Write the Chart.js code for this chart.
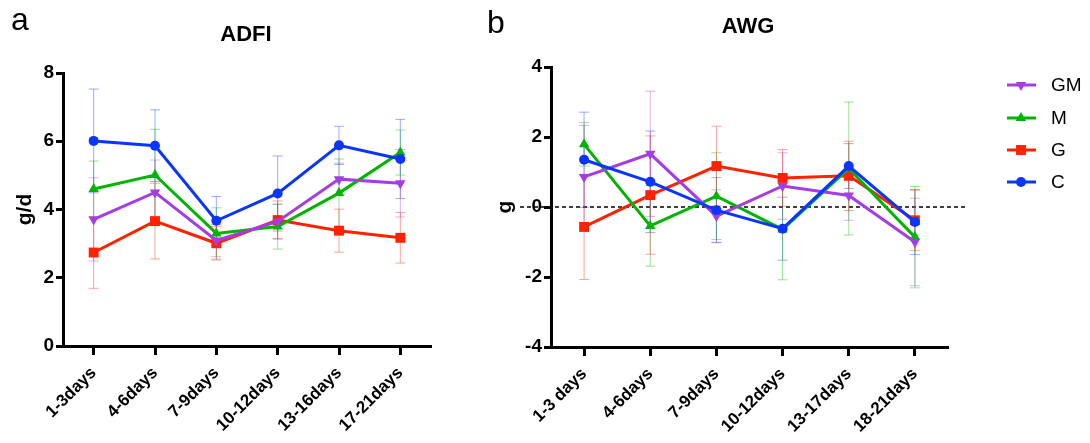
<!DOCTYPE html>
<html lang="en">
<head>
<meta charset="UTF-8">
<title>ADFI and AWG</title>
<script src="https://cdn.jsdelivr.net/npm/chart.js"></script>
<style>
  body { margin: 0; background: #fff; }
  #wrap { position: relative; width: 1090px; height: 443px; }
  canvas { position: absolute; top: 0; }
</style>
</head>
<body>
<div id="wrap">
  <canvas id="adfiChart" width="480" height="443" style="left:0"></canvas>
  <canvas id="awgChart" width="610" height="443" style="left:480px"></canvas>
</div>
<script>
// ---- data ----
const adfiLabels = ['1-3days', '4-6days', '7-9days', '10-12days', '13-16days', '17-21days'];
const awgLabels = ['1-3 days', '4-6days', '7-9days', '10-12days', '13-17days', '18-21days'];
const groupNames = ['GM', 'M', 'G', 'C'];

// ADFI (g/d), mean and SD
const adfiGM = [3.71, 4.50, 3.09, 3.65, 4.89, 4.77];
const adfiGMsd = [1.22, 0.95, 0.47, 0.50, 0.47, 0.99];
const adfiM = [4.60, 5.01, 3.30, 3.50, 4.48, 5.67];
const adfiMsd = [0.82, 1.34, 0.75, 0.66, 1.00, 0.66];
const adfiG = [2.74, 3.66, 3.01, 3.69, 3.38, 3.17];
const adfiGsd = [1.05, 1.11, 0.49, 0.56, 0.63, 0.74];
const adfiC = [6.01, 5.87, 3.67, 4.47, 5.88, 5.48];
const adfiCsd = [1.52, 1.05, 0.71, 1.10, 0.56, 1.16];

// AWG (g), mean and SD
const awgGM = [0.86, 1.52, -0.26, 0.60, 0.33, -1.00];
const awgGMsd = [1.47, 1.79, 0.75, 0.95, 0.71, 1.25];
const awgM = [1.79, -0.54, 0.31, -0.64, 1.10, -0.86];
const awgMsd = [0.62, 1.15, 1.24, 1.44, 1.90, 1.45];
const awgG = [-0.57, 0.34, 1.17, 0.83, 0.89, -0.38];
const awgGsd = [1.50, 1.69, 1.14, 0.81, 0.99, 0.86];
const awgC = [1.35, 0.72, -0.09, -0.62, 1.17, -0.43];
const awgCsd = [1.36, 1.45, 0.93, 0.90, 0.64, 0.93];

const yTicksAdfi = [0, 2, 4, 6, 8];
const yTicksAwg = [-4, -2, 0, 2, 4];

// ---- styles ----
const FONT = "'Liberation Sans', Arial, Helvetica, sans-serif";
const styles = {
  GM: { color: '#a43de3', err: 'rgba(164,61,227,0.4)', pointStyle: 'triangle', rotation: 180, radius: 6 },
  M:  { color: '#00b400', err: 'rgba(0,180,0,0.4)',    pointStyle: 'triangle', rotation: 0,   radius: 6 },
  G:  { color: '#ff2200', err: 'rgba(255,34,0,0.4)',   pointStyle: 'rect',     rotation: 0,   radius: 7 },
  C:  { color: '#0a35ff', err: 'rgba(10,53,255,0.4)',  pointStyle: 'circle',   rotation: 0,   radius: 5 }
};

function makeDataset(name, values, sd) {
  const s = styles[name];
  return {
    label: name,
    data: values,
    sd: sd,
    errColor: s.err,
    borderColor: s.color,
    backgroundColor: s.color,
    borderWidth: 3,
    pointStyle: s.pointStyle,
    pointRotation: s.rotation,
    pointRadius: s.radius,
    pointBorderWidth: 0,
    tension: 0
  };
}

// error bars drawn under the lines
const errorBars = {
  id: 'errorBars',
  beforeDatasetsDraw(chart) {
    const { ctx } = chart;
    const xs = chart.scales.x, ys = chart.scales.y;
    chart.data.datasets.forEach(ds => {
      ctx.save();
      ctx.strokeStyle = ds.errColor;
      ctx.lineWidth = 1;
      ds.data.forEach((v, i) => {
        const px = xs.getPixelForValue(i);
        const top = ys.getPixelForValue(v + ds.sd[i]);
        const bot = ys.getPixelForValue(v - ds.sd[i]);
        ctx.beginPath();
        ctx.moveTo(px, top); ctx.lineTo(px, bot);
        ctx.moveTo(px - 5, top); ctx.lineTo(px + 5, top);
        ctx.moveTo(px - 5, bot); ctx.lineTo(px + 5, bot);
        ctx.stroke();
      });
      ctx.restore();
    });
  }
};

function panelText(letter, lx, ly, title, tx, ty) {
  return {
    id: 'panelText',
    afterDraw(chart) {
      const ctx = chart.ctx;
      ctx.save();
      ctx.fillStyle = '#000';
      ctx.textBaseline = 'alphabetic';
      ctx.textAlign = 'left';
      ctx.font = '32px ' + FONT;
      ctx.fillText(letter, lx, ly);
      ctx.textAlign = 'center';
      ctx.font = 'bold 22px ' + FONT;
      ctx.fillText(title, tx, ty);
      ctx.restore();
    }
  };
}

function buildScales(labels, yTicks, yWidth, xHeight, yTitle, titlePad) {
  return {
    x: {
      type: 'category',
      labels: labels,
      offset: true,
      grid: { display: true, offset: false, drawOnChartArea: false, drawTicks: true,
              tickLength: 9, tickWidth: 3, tickColor: '#000' },
      border: { display: true, color: '#000', width: 3 },
      ticks: { color: '#000', font: { family: FONT, size: 17, weight: 'bold' },
               minRotation: 45, maxRotation: 45, autoSkip: false, padding: 8 },
      afterFit(s) { s.height = xHeight; }
    },
    y: {
      min: yTicks[0],
      max: yTicks[yTicks.length - 1],
      grid: { display: true, drawOnChartArea: false, drawTicks: true,
              tickLength: 7, tickWidth: 3, tickColor: '#000' },
      border: { display: true, color: '#000', width: 3 },
      ticks: { color: '#000', font: { family: FONT, size: 19, weight: 'bold' }, padding: 2 },
      afterBuildTicks(s) { s.ticks = yTicks.map(v => ({ value: v })); },
      title: { display: true, text: yTitle, color: '#000',
               font: { family: FONT, size: 21, weight: 'bold' }, padding: { top: titlePad, bottom: 0 } },
      afterFit(s) { s.width = yWidth; }
    }
  };
}

// ---- panel a: ADFI ----
new Chart(document.getElementById('adfiChart'), {
  type: 'line',
  data: {
    labels: adfiLabels,
    datasets: [
      makeDataset('C', adfiC, adfiCsd),
      makeDataset('GM', adfiGM, adfiGMsd),
      makeDataset('M', adfiM, adfiMsd),
      makeDataset('G', adfiG, adfiGsd)
    ]
  },
  options: {
    responsive: false,
    animation: false,
    layout: { padding: { left: 0, top: 73, right: 49, bottom: 0 } },
    plugins: { legend: { display: false }, tooltip: { enabled: false } },
    scales: buildScales(adfiLabels, yTicksAdfi, 63, 97, 'g/d', 13)
  },
  plugins: [errorBars, panelText('a', 11, 30, 'ADFI', 246, 41)]
});

// ---- panel b: AWG ----
const zeroLine = {
  id: 'zeroLine',
  beforeDatasetsDraw(chart) {
    const { ctx } = chart;
    const y0 = chart.scales.y.getPixelForValue(0);
    ctx.save();
    ctx.strokeStyle = '#000';
    ctx.lineWidth = 1.5;
    ctx.setLineDash([4, 3]);
    ctx.beginPath();
    ctx.moveTo(40, y0);
    ctx.lineTo(486, y0);
    ctx.stroke();
    ctx.restore();
  }
};

const sideLegend = {
  id: 'sideLegend',
  afterDraw(chart) {
    const { ctx } = chart;
    const rows = [85, 118, 150, 182];
    groupNames.forEach((name, i) => {
      const s = styles[name];
      const y = rows[i];
      ctx.save();
      ctx.strokeStyle = s.color;
      ctx.lineWidth = 3;
      ctx.beginPath();
      ctx.moveTo(527, y);
      ctx.lineTo(556, y);
      ctx.stroke();
      ctx.fillStyle = s.color;
      Chart.helpers.drawPoint(ctx, {
        pointStyle: s.pointStyle, radius: s.radius, rotation: s.rotation, borderWidth: 0
      }, 541, y);
      ctx.fillStyle = '#000';
      ctx.font = '19px ' + FONT;
      ctx.textAlign = 'left';
      ctx.textBaseline = 'middle';
      ctx.fillText(name, 571, y + 1);
      ctx.restore();
    });
  }
};

new Chart(document.getElementById('awgChart'), {
  type: 'line',
  data: {
    labels: awgLabels,
    datasets: [
      makeDataset('C', awgC, awgCsd),
      makeDataset('GM', awgGM, awgGMsd),
      makeDataset('M', awgM, awgMsd),
      makeDataset('G', awgG, awgGsd)
    ]
  },
  options: {
    responsive: false,
    animation: false,
    layout: { padding: { left: 0, top: 67, right: 142, bottom: 0 } },
    plugins: { legend: { display: false }, tooltip: { enabled: false } },
    scales: buildScales(awgLabels, yTicksAwg, 71, 96, 'g', 13)
  },
  plugins: [zeroLine, errorBars, sideLegend, panelText('b', 7, 33, 'AWG', 268, 33)]
});
</script>
</body>
</html>
